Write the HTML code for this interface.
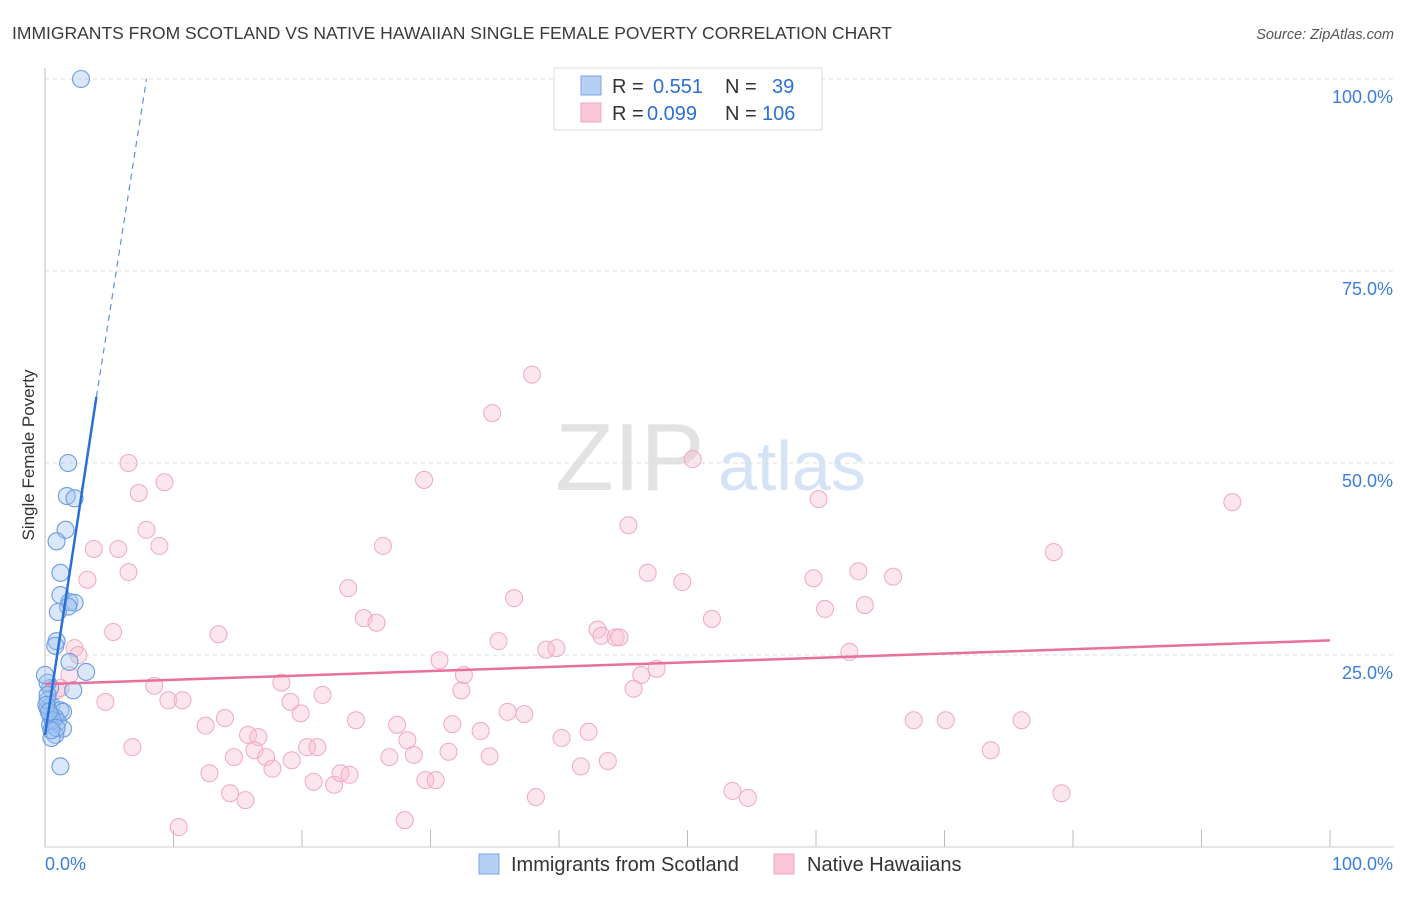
<!DOCTYPE html>
<html><head><meta charset="utf-8"><style>
body{margin:0;background:#fff;font-family:"Liberation Sans",sans-serif;}
svg text{font-family:"Liberation Sans",sans-serif;}
</style></head><body>
<svg id="chart" width="1406" height="892">
<text x="12" y="39" font-size="17.5" fill="#3a3a3a">IMMIGRANTS FROM SCOTLAND VS NATIVE HAWAIIAN SINGLE FEMALE POVERTY CORRELATION CHART</text>
<text x="1394" y="39" font-size="14.5" fill="#555" font-style="italic" text-anchor="end">Source: ZipAtlas.com</text>
<g>
<text x="555" y="490" font-size="96" fill="#e2e2e2" font-family="Liberation Serif">ZIP</text>
<text x="718" y="490" font-size="70" fill="#d4e3f5">atlas</text>
</g>
<g id="grid"></g>
<g id="axes"></g>
<g id="marks"></g>
<text x="34" y="455" font-size="17" fill="#333" text-anchor="middle" transform="rotate(-90 34 455)">Single Female Poverty</text>
<g>
<rect x="554" y="68" width="268" height="62" fill="#fff" stroke="#ddd"/>
<rect x="581" y="76" width="20" height="19" fill="#b5d0f3" stroke="#7aa6e0"/>
<rect x="581" y="103" width="20" height="19" fill="#f9c6d6" stroke="#eea4bc"/>
<text x="612" y="93" font-size="20" fill="#333">R = <tspan x="653" fill="#2b6fd6">0.551</tspan><tspan x="725">N = </tspan><tspan x="772" fill="#2b6fd6">39</tspan></text>
<text x="612" y="120" font-size="20" fill="#333">R = <tspan x="647" fill="#2b6fd6">0.099</tspan><tspan x="725">N = </tspan><tspan x="762" fill="#2b6fd6">106</tspan></text>
</g>
<g>
<rect x="479" y="854" width="20" height="20" fill="#b5d0f3" stroke="#7aa6e0"/>
<text x="511" y="871" font-size="20" fill="#333">Immigrants from Scotland</text>
<rect x="774" y="854" width="20" height="20" fill="#f9c6d6" stroke="#eea4bc"/>
<text x="807" y="871" font-size="20" fill="#333">Native Hawaiians</text>
</g>
</svg>
<script>
const blueX=[2.8,1.8,1.7,2.3,1.6,0.9,1.2,1.2,1.9,2.3,1.8,1.0,0.9,0.8,1.9,3.2,2.2,0.4,0.2,0.5,0.2,1.2,1.4,0.8,1.0,0.4,1.4,0.8,0.5,1.2,0.2,0.4,0.6,0.9,0.2,0.0,0.5,0.1,0.3];
const blueY=[100,50.0,45.7,45.4,41.3,39.8,35.7,32.8,31.9,31.8,31.3,30.6,26.8,26.2,24.1,22.8,20.4,20.7,21.4,18.5,18.1,17.8,17.6,16.8,16.3,15.9,15.4,14.6,14.2,10.5,19.1,17.2,16.5,15.5,19.8,22.4,15.2,18.5,17.6];
const pinkX=[6.5,7.3,9.3,7.9,8.9,5.7,3.8,6.5,3.3,5.3,2.3,2.6,1.9,0.9,1.2,4.7,6.8,8.5,9.6,10.7,10.4,13.5,12.5,14.0,12.8,14.4,14.7,15.6,15.8,16.6,16.3,17.2,17.7,18.4,19.1,19.9,19.2,20.4,21.2,20.9,21.6,22.5,23.0,23.7,23.6,24.2,24.8,25.8,26.3,26.8,27.4,28.2,28.7,28.0,29.6,30.4,29.5,30.7,31.7,32.4,32.6,31.4,33.9,34.6,34.8,35.3,36.0,36.5,37.3,37.9,38.2,39.0,39.8,40.2,41.7,42.3,43.8,43.0,43.3,44.4,44.7,45.4,45.8,46.4,46.9,47.6,49.6,50.4,51.9,53.5,54.7,59.8,60.2,60.7,62.6,63.3,63.8,66.0,67.6,70.1,73.6,76.0,78.5,79.1,92.4];
const pinkY=[50.0,46.1,47.5,41.3,39.2,38.8,38.8,35.8,34.8,28.0,25.9,25.0,22.4,20.4,20.7,18.9,13.0,21.0,19.1,19.1,2.6,27.7,15.8,16.8,9.6,7.0,11.7,6.1,14.6,14.3,12.6,11.7,10.2,21.4,18.9,17.4,11.3,13.0,13.0,8.5,19.8,8.1,9.6,9.4,33.7,16.5,29.8,29.2,39.2,11.7,15.9,13.9,12.0,3.5,8.7,8.7,47.8,24.3,16.0,20.4,22.4,12.4,15.1,11.8,56.5,26.8,17.6,32.4,17.3,61.5,6.5,25.7,25.9,14.2,10.5,15.0,11.2,28.3,27.5,27.3,27.3,41.9,20.6,22.4,35.7,23.2,34.5,50.5,29.7,7.3,6.4,35.0,45.3,31.0,25.4,35.9,31.5,35.2,16.5,16.5,12.6,16.5,38.4,7.0,44.9];
const yTicks=[25,50,75,100];
const yTickLabels=["25.0%","50.0%","75.0%","100.0%"];
const xTickVals=[0,10,20,30,40,50,60,70,80,90,100];
const blueTrend=[[0,14.6],[4.0,58.6]];
const blueTrendDash=[[4.0,58.6],[7.9,100]];
const pinkTrend=[[0,21.2],[100,26.9]];
const NS="http://www.w3.org/2000/svg";
const X=v=>45+v*12.85, Y=v=>847-v*7.68;
function mk(tag,attrs,parent){const e=document.createElementNS(NS,tag);for(const k in attrs)e.setAttribute(k,attrs[k]);document.getElementById(parent).appendChild(e);return e;}
yTicks.forEach((t,i)=>{
 const g=mk('line',{x1:45,x2:1394,y1:Y(t),y2:Y(t),stroke:'#ddd','stroke-dasharray':'4,4'},'grid');
 
 
 const l=mk('text',{x:1393,y:Y(t)+24,'font-size':18,fill:'#3b7ddd','text-anchor':'end'},'grid');
 l.textContent=yTickLabels[i];
 
 
});
const ax=mk('line',{x1:45,x2:45,y1:68,y2:847,stroke:'#bbb'},'axes');


const bx=mk('line',{x1:45,x2:1394,y1:847,y2:847,stroke:'#ccc'},'axes');


xTickVals.forEach(t=>{
 const k=mk('line',{x1:X(t),x2:X(t),y1:830,y2:847,stroke:'#bbb'},'axes');
 
 
});
const xl0=mk('text',{x:45,y:870,'font-size':18,fill:'#3b7ddd'},'axes');xl0.textContent='0.0%';


const xl1=mk('text',{x:1393,y:870,'font-size':18,fill:'#3b7ddd','text-anchor':'end'},'axes');xl1.textContent='100.0%';


pinkX.forEach((v,i)=>{
 const c=mk('circle',{cx:X(v),cy:Y(pinkY[i]),r:8.5,fill:'rgba(248,190,210,0.38)',stroke:'#f0a8c0','stroke-width':1},'marks');
 
 
});
blueX.forEach((v,i)=>{
 const c=mk('circle',{cx:X(v),cy:Y(blueY[i]),r:8.5,fill:'rgba(160,195,240,0.4)',stroke:'#6a9ce0','stroke-width':1.1},'marks');
 
 
});
const pt=mk('line',{x1:X(pinkTrend[0][0]),y1:Y(pinkTrend[0][1]),x2:X(pinkTrend[1][0]),y2:Y(pinkTrend[1][1]),stroke:'#e8709a','stroke-width':2.5},'marks');


const bt=mk('line',{x1:X(blueTrend[0][0]),y1:Y(blueTrend[0][1]),x2:X(blueTrend[1][0]),y2:Y(blueTrend[1][1]),stroke:'#2a6fd8','stroke-width':2.5},'marks');


const bd=mk('line',{x1:X(blueTrendDash[0][0]),y1:Y(blueTrendDash[0][1]),x2:X(blueTrendDash[1][0]),y2:Y(blueTrendDash[1][1]),stroke:'#5a8fe0','stroke-width':1.2,'stroke-dasharray':'6,5'},'marks');


</script>
</body></html>
